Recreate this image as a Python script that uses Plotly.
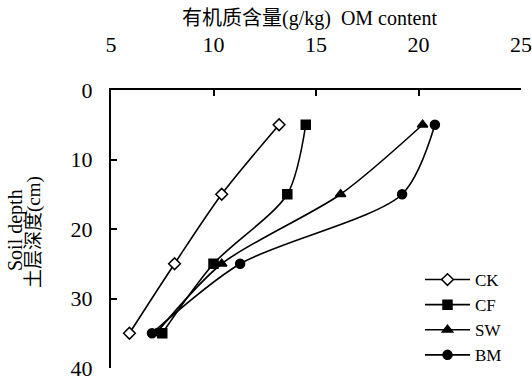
import plotly.graph_objects as go

depth = [5, 15, 25, 35]
ck = [13.2, 10.4, 8.1, 5.9]
cf = [14.5, 13.6, 10.0, 7.5]
sw = [20.2, 16.2, 10.4, 7.2]
bm = [20.8, 19.2, 11.3, 7.0]
series_names = ["CK", "CF", "SW", "BM"]
x_ticks = [5, 10, 15, 20, 25]
y_ticks = [0, 10, 20, 30, 40]

FONT = "Liberation Serif, Times New Roman, Noto Sans CJK SC, serif"
symbols = ["diamond", "square", "triangle-up", "circle"]
fills = ["white", "black", "black", "black"]

fig = go.Figure()
for name, vals, sym, fc in zip(series_names, [ck, cf, sw, bm], symbols, fills):
    fig.add_trace(go.Scatter(
        x=vals, y=depth, name=name, mode="lines+markers",
        line=dict(color="black", width=1.6, shape="spline", smoothing=0.8),
        marker=dict(symbol=sym, size=9, color=fc,
                    line=dict(color="black", width=1.5)),
        cliponaxis=False,
    ))

W, H = 532, 380
l, r, t, b = 111, 11, 90, 12
pw, ph = W - l - r, H - t - b


def px(xp):
    return (xp - l) / pw


def py(yp):
    return (H - b - yp) / ph


fig.update_layout(
    width=W, height=H,
    margin=dict(l=l, r=r, t=t, b=b, autoexpand=False),
    paper_bgcolor="white", plot_bgcolor="white",
    font=dict(family=FONT, size=20, color="black"),
    showlegend=True,
    legend=dict(x=px(420), y=py(262), xanchor="left", yanchor="top",
                bgcolor="rgba(0,0,0,0)", font=dict(size=17),
                itemwidth=45, tracegroupgap=0),
    xaxis=dict(side="top", range=[5, 25], tickvals=x_ticks,
               showline=True, linecolor="black", linewidth=2,
               ticks="inside", ticklen=6, tickcolor="black", tickwidth=2,
               showgrid=False, zeroline=False, ticklabelstandoff=27,
               ticklabeloverflow="allow",
               automargin=False, tickfont=dict(size=22)),
    yaxis=dict(range=[40, 0], tickvals=y_ticks,
               showline=True, linecolor="black", linewidth=2,
               ticks="inside", ticklen=6, tickcolor="black", tickwidth=2,
               showgrid=False, zeroline=False, ticklabelstandoff=12,
               ticklabeloverflow="allow",
               automargin=False, tickfont=dict(size=22)),
)
fig.add_annotation(text="有机质含量(g/kg)  OM content", x=px(309), y=py(18),
                   xref="paper", yref="paper", showarrow=False,
                   xanchor="center", yanchor="middle", font=dict(size=20))
fig.add_annotation(text="Soil depth", x=px(15), y=py(230),
                   xref="paper", yref="paper", showarrow=False, textangle=-90,
                   xanchor="center", yanchor="middle", font=dict(size=20))
fig.add_annotation(text="土层深度(cm)", x=px(34), y=py(232),
                   xref="paper", yref="paper", showarrow=False, textangle=-90,
                   xanchor="center", yanchor="middle", font=dict(size=19))

fig.write_html("out.html", config={"displayModeBar": False},
               post_script="document.body.style.margin='0';document.body.style.padding='0';")
